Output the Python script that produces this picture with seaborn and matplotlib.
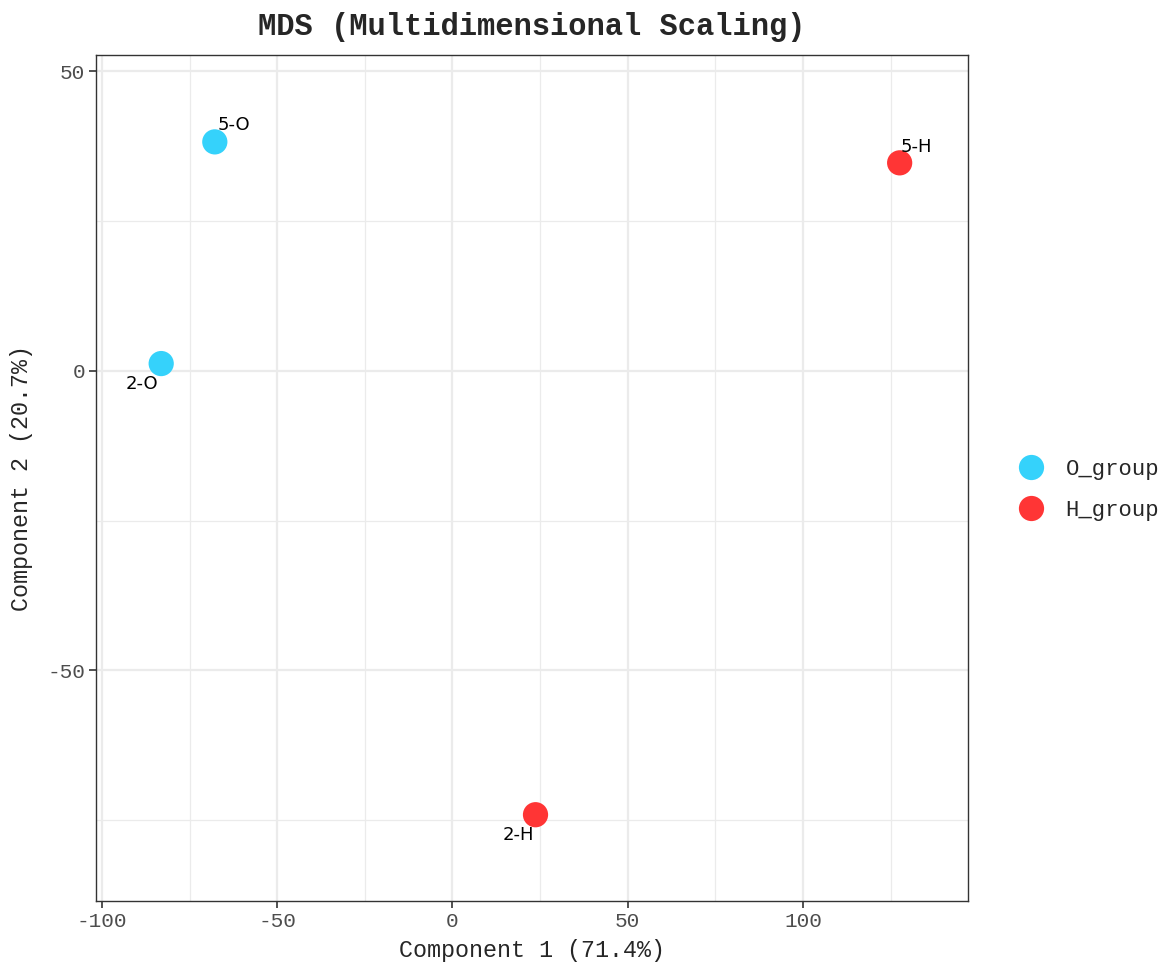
import matplotlib
matplotlib.use("Agg")
import matplotlib.pyplot as plt
import seaborn as sns
import pandas as pd
from matplotlib.ticker import MultipleLocator

# MDS coordinates
samples = ["5-O", "2-O", "5-H", "2-H"]
groups = ["O_group", "O_group", "H_group", "H_group"]
comp1 = [-67.8, -83.1, 127.6, 23.7]
comp2 = [38.2, 1.2, 34.7, -74.1]

group_order = ["O_group", "H_group"]
group_colors = ["#35D2FB", "#FF3535"]

df = pd.DataFrame({"sample": samples, "group": groups, "c1": comp1, "c2": comp2})

sns.set_style("white")
plt.rcParams["axes.unicode_minus"] = False
mono = ["Liberation Mono", "DejaVu Sans Mono"]

fig = plt.figure(figsize=(11.68, 9.64), dpi=100)
ax = fig.add_axes([96 / 1168, 1 - 901 / 964, 872 / 1168, 846 / 964])

ax.xaxis.set_major_locator(MultipleLocator(50))
ax.xaxis.set_minor_locator(MultipleLocator(25))
ax.yaxis.set_major_locator(MultipleLocator(50))
ax.yaxis.set_minor_locator(MultipleLocator(25))
ax.grid(which="major", color="#EBEBEB", linewidth=1.6)
ax.grid(which="minor", color="#EBEBEB", linewidth=0.9)
ax.set_axisbelow(True)

sns.scatterplot(data=df, x="c1", y="c2", hue="group", hue_order=group_order,
                palette=dict(zip(group_order, group_colors)), s=330,
                edgecolor="none", ax=ax, zorder=3)

# label offsets (points) to mimic repelled labels
offsets = {"5-O": (2, 6, "left", "bottom"), "2-O": (-2, -8, "right", "top"),
           "5-H": (1, 5, "left", "bottom"), "2-H": (-1, -8, "right", "top")}
for _, r in df.iterrows():
    dx, dy, ha, va = offsets[r["sample"]]
    ax.annotate(r["sample"], (r["c1"], r["c2"]), xytext=(dx, dy),
                textcoords="offset points", ha=ha, va=va, fontsize=13,
                family="DejaVu Sans", color="black")

ax.set_xlim(-101.7, 147.1)
ax.set_ylim(-88.5, 52.7)

for s in ax.spines.values():
    s.set_color("#333333")
    s.set_linewidth(1.0)

ax.tick_params(which="major", length=5, width=1.2, color="#333333", pad=3,
               labelsize=15.2, labelcolor="#4D4D4D", bottom=True, left=True)
ax.tick_params(which="minor", length=0)
for lab in ax.get_xticklabels() + ax.get_yticklabels():
    lab.set_family(mono)

ax.set_xlabel("Component 1 (71.4%)", fontsize=16.8, family=mono, va="center")
ax.xaxis.set_label_coords(0.5, (901 - 950) / 846)
ax.set_ylabel("Component 2 (20.7%)", fontsize=16.8, family=mono, va="center")
ax.yaxis.set_label_coords((22 - 96) / 872, 0.5)

fig.text(532 / 1168, 1 - 27 / 964, "MDS (Multidimensional Scaling)",
         ha="center", va="center", fontsize=22, fontweight="bold", family=mono)

handles, labels = ax.get_legend_handles_labels()
ax.legend(handles, labels, loc="center left", bbox_to_anchor=(989 / 1168, 1 - 490 / 964),
          bbox_transform=fig.transFigure, frameon=False, markerscale=1.0,
          prop={"family": mono, "size": 16}, handletextpad=0.55, labelspacing=0.9)

fig.savefig("out.png", dpi=100)
